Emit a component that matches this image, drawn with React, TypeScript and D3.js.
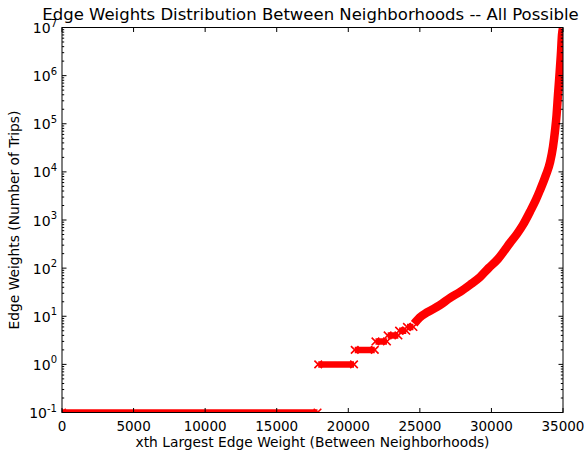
import React from "react";
import * as d3 from "d3";

const width = 584;
const height = 458;
const margin = { top: 27.5, right: 21, bottom: 45.5, left: 62 };

// flat runs of equal weight (rank range -> weight)
const plateauStart = [0, 17900, 20450, 21900, 22750, 23550, 24100];
const plateauEnd = [17850, 20400, 21850, 22700, 23500, 24050, 24550];
const plateauValue = [0.1, 1, 2, 3, 4, 5, 6];

// rising tail
const curveRank = [
  24600, 25000, 25500, 26400, 27100, 27800, 28500, 29200, 29800, 30400, 30900,
  31300, 31800, 32200, 32700, 33100, 33400, 33800, 34100, 34300, 34450, 34550,
  34650, 34750, 34850, 34930, 34990
];
const curveWeight = [
  7, 9.5, 12, 17, 24, 32, 45, 65, 100, 148, 230, 334, 520, 790, 1500, 2600,
  4200, 8500, 16000, 33000, 75000, 150000, 400000, 1000000, 2700000, 7000000,
  9500000
];

const xTicks = [0, 5000, 10000, 15000, 20000, 25000, 30000, 35000];
const yExponents = [-1, 0, 1, 2, 3, 4, 5, 6, 7];

const title = "Edge Weights Distribution Between Neighborhoods -- All Possible";
const xLabel = "xth Largest Edge Weight (Between Neighborhoods)";
const yLabel = "Edge Weights (Number of Trips)";

const font = "DejaVu Sans, sans-serif";
const red = "#ff0000";

const xScale = d3
  .scaleLinear()
  .domain([0, 35000])
  .range([margin.left, width - margin.right]);
const yScale = d3
  .scaleLog()
  .domain([0.1, 1e7])
  .range([height - margin.bottom, margin.top]);

const Marker = ({ x, y, s = 3.8 }: { x: number; y: number; s?: number }) => (
  <path
    d={`M${x - s},${y - s}L${x + s},${y + s}M${x - s},${y + s}L${x + s},${y - s}`}
    stroke={red}
    strokeWidth={1.6}
  />
);

export default function App() {
  const x0 = xScale.range()[0];
  const x1 = xScale.range()[1];
  const y0 = yScale.range()[0];
  const y1 = yScale.range()[1];

  const line = d3
    .line<number>()
    .x((d, i) => xScale(curveRank[i]))
    .y((d) => yScale(d))
    .curve(d3.curveMonotoneX);

  // minor log ticks 2..9 in every decade
  const minor: number[] = [];
  for (let e = -1; e < 7; e++) {
    for (let m = 2; m <= 9; m++) minor.push(m * Math.pow(10, e));
  }

  return (
    <svg width={width} height={height} style={{ display: "block", position: "absolute", left: 0, top: 0 }}>
      <defs>
        <clipPath id="plot">
          <rect x={x0} y={y1} width={x1 - x0} height={y0 - y1} />
        </clipPath>
      </defs>
      <rect width={width} height={height} fill="#fff" />

      <g clipPath="url(#plot)">
        {plateauValue.map((v, i) => (
          <g key={i}>
            <line
              x1={xScale(plateauStart[i])}
              x2={xScale(plateauEnd[i])}
              y1={yScale(v)}
              y2={yScale(v)}
              stroke={red}
              strokeWidth={6.5}
            />
            <Marker x={xScale(plateauStart[i])} y={yScale(v)} />
            <Marker x={xScale(plateauEnd[i])} y={yScale(v)} />
          </g>
        ))}
        <path d={line(curveWeight) || ""} fill="none" stroke={red} strokeWidth={8.5} />
      </g>

      {/* frame */}
      <rect x={x0} y={y1} width={x1 - x0} height={y0 - y1} fill="none" stroke="#000" strokeWidth={1} />

      {/* x ticks, inward, top and bottom */}
      {xTicks.map((t) => (
        <g key={t}>
          <line x1={xScale(t)} x2={xScale(t)} y1={y0} y2={y0 - 4.5} stroke="#000" />
          <line x1={xScale(t)} x2={xScale(t)} y1={y1} y2={y1 + 4.5} stroke="#000" />
          <text x={xScale(t)} y={y0 + 18} textAnchor="middle" fontFamily={font} fontSize={13.5} fill="#000">
            {t}
          </text>
        </g>
      ))}

      {/* y ticks */}
      {yExponents.map((e) => {
        const y = yScale(Math.pow(10, e));
        return (
          <g key={e}>
            <line x1={x0} x2={x0 + 4.5} y1={y} y2={y} stroke="#000" />
            <line x1={x1} x2={x1 - 4.5} y1={y} y2={y} stroke="#000" />
            <text x={x0 - 5} y={y + 5.5} textAnchor="end" fontFamily={font} fontSize={14} fill="#000">
              10
              <tspan dy={-6.5} fontSize={10}>
                {e}
              </tspan>
            </text>
          </g>
        );
      })}
      {minor.map((v, i) => (
        <g key={i}>
          <line x1={x0} x2={x0 + 2.2} y1={yScale(v)} y2={yScale(v)} stroke="#000" />
          <line x1={x1} x2={x1 - 2.2} y1={yScale(v)} y2={yScale(v)} stroke="#000" />
        </g>
      ))}

      <text x={(x0 + x1) / 2 - 2} y={20} textAnchor="middle" fontFamily={font} fontSize={16.5} fill="#000">
        {title}
      </text>
      <text x={(x0 + x1) / 2} y={447} textAnchor="middle" fontFamily={font} fontSize={13.8} fill="#000">
        {xLabel}
      </text>
      <text
        transform={`translate(19,${(y0 + y1) / 2}) rotate(-90)`}
        textAnchor="middle"
        fontFamily={font}
        fontSize={13.8}
        fill="#000"
      >
        {yLabel}
      </text>
    </svg>
  );
}
